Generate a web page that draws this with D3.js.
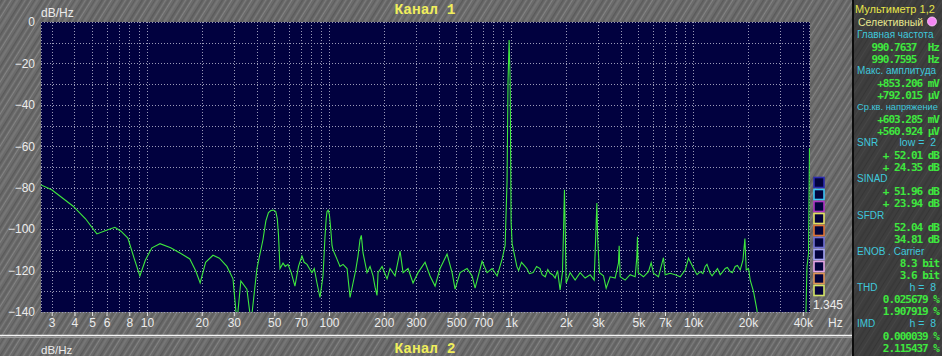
<!DOCTYPE html>
<html>
<head>
<meta charset="utf-8">
<script src="https://cdn.jsdelivr.net/npm/d3@7"></script>
<style>
  html, body { margin: 0; padding: 0; background: #6a6a6a; }
  svg { display: block; }
</style>
</head>
<body>
<svg id="chart"></svg>
<script>
var width = 942; // page width
var height = 356; // page height

// spectrum of channel 1 (frequency in Hz, level in dB/Hz)
var freqs = [2.62, 3.0, 3.92, 4.6, 5.31, 6.0, 6.67, 7.2, 7.86, 8.5, 9.15, 9.8, 10.65, 11.8, 13.5, 15.2,
    17.2, 18.5, 19.6, 21.0, 23.05, 25.0, 27.5, 29.7, 31.2, 32.8, 35.4, 37.3, 40.2, 43.4, 45.0, 46.5,
    48.0, 49.5, 51.0, 52.0, 52.8, 53.8, 55.9, 57.5, 59.5, 62.0, 65.0, 68.0, 71.0, 73.0, 75.7, 78.0,
    80.6, 83.0, 85.9, 89.2, 92.7, 95.0, 96.5, 97.5, 99.0, 100.5, 102.0, 103.9, 105.2, 110, 114.9,
    119.4, 125.6, 130.5, 135.5, 140, 144.3, 148.0, 150.5, 153.8, 161.7, 168.0, 174.5, 179, 183.5,
    185.9, 195.6, 208.3, 216.4, 230.5, 245.6, 255.1, 271.7, 289.4, 308.3, 336.9, 358.9, 382.3, 407.3,
    444.9, 474.2, 492.5, 524.6, 573.1, 610.6, 634.3, 692.9, 738.2, 786.5, 837.8, 892.5, 926.9, 950,
    962, 975, 988, 1000, 1013, 1075, 1100, 1140, 1180, 1220, 1260, 1321, 1380, 1443, 1480, 1540,
    1590, 1638, 1690, 1745, 1800, 1858, 1914, 1939, 1963, 1985, 2005, 2110, 2247, 2394, 2550, 2717,
    2858, 2920, 2958, 2990, 3056, 3215, 3327, 3499, 3727, 3887, 3921, 3971, 4230, 4506, 4800, 4905,
    4943, 4990, 5333, 5680, 5877, 6051, 6447, 6867, 7017, 7475, 7963, 8483, 9036, 9424, 9838, 10257,
    10500, 10926, 11300, 11641, 11900, 12400, 12700, 13209, 13600, 14072, 14400, 14992, 15400, 15970,
    16400, 17012, 17500, 18123, 18760, 19232, 19554, 20126, 20567, 21450, 22387, 22846, 41500, 42150,
    43000, 43500];
var levels = [-78.7, -81, -88.8, -95, -102.3, -100.5, -99.1, -101, -104.3, -114, -122.6, -115, -109, -107, -109, -111.5,
    -114.4, -120, -126, -116, -112.6, -114, -118, -124, -145, -125, -129, -145, -119, -105, -96, -92,
    -91, -90.8, -91.5, -95, -103, -119, -116.4, -118, -117, -121, -127.5, -118, -113, -116, -117, -119,
    -121, -119, -126, -133, -122.6, -104, -95, -91.5, -90.8, -93, -99, -108, -110, -114, -118,
    -117, -119, -133, -126, -120, -113, -105, -103, -111.5, -121, -118, -122.6, -128, -132,
    -121, -118, -124, -119, -122.6, -110.6, -121, -119, -126, -121, -116, -122.6, -127.5, -119,
    -112, -121, -129, -121, -119, -122.6, -128.5, -115.5, -121, -119, -122.6, -114.5, -108, -77,
    -28.5, -8.7, -28.5, -96.5, -107, -118, -120, -116, -117.5, -119, -121.5, -121, -118, -119, -122, -123,
    -119.5, -121.3, -122, -123.6, -120, -129.4, -121, -102, -81, -102, -126, -121, -124.6, -121, -123.6, -122,
    -124.6, -102, -87.4, -105, -121, -122.5, -128.5, -123, -123.6, -116.4, -108, -123, -124.6, -122, -123, -113.3,
    -103.7, -121, -123, -120.5, -116.2, -121.3, -123, -113.8, -122, -121.3, -122, -123, -119.7, -114, -117.3, -120.5,
    -122, -120.5, -121.5, -118, -117, -121.3, -122.5, -120.5, -119, -122, -121, -119, -118.5, -120.5,
    -121, -118, -117.5, -119.7, -115, -104.5, -119.7, -119, -124.6, -130.2, -139, -145, -145, -118,
    -111.7, -61];

// axis ticks
var xTicks = [3, 4, 5, 6, 8, 10, 20, 30, 50, 70, 100, 200, 300, 500, 700, 1000, 2000, 3000, 5000, 7000, 10000, 20000, 40000];
var xTickLabels = ["3", "4", "5", "6", "8", "10", "20", "30", "50", "70", "100", "200", "300", "500", "700",
    "1k", "2k", "3k", "5k", "7k", "10k", "20k", "40k"];
var yTicks = [0, -20, -40, -60, -80, -100, -120, -140];
var yGrid = [0, -10, -20, -30, -40, -50, -60, -70, -80, -90, -100, -110, -120, -130, -140];

// multimeter panel: [label, value, kind]
var panelRows = [
    ["Главная частота", "", "label"],
    ["", "990.7637  Hz", "value"],
    ["", "990.7595  Hz", "value"],
    ["Макс. амплитуда", "", "label"],
    ["", "+853.206 mV", "value"],
    ["", "+792.015 µV", "value"],
    ["Ср.кв. напряжение", "", "label"],
    ["", "+603.285 mV", "value"],
    ["", "+560.924 µV", "value"],
    ["SNR", "low =  2", "label"],
    ["", "+ 52.01 dB", "value"],
    ["", "+ 24.35 dB", "value"],
    ["SINAD", "", "label"],
    ["", "+ 51.96 dB", "value"],
    ["", "+ 23.94 dB", "value"],
    ["SFDR", "", "label"],
    ["", "52.04 dB", "value"],
    ["", "34.81 dB", "value"],
    ["ENOB . Carrier", "", "label"],
    ["", "8.3 bit", "value"],
    ["", "3.6 bit", "value"],
    ["THD", "h =  8", "label"],
    ["", "0.025679 %", "value"],
    ["", "1.907919 %", "value"],
    ["IMD", "h =  8", "label"],
    ["", "0.000039 %", "value"],
    ["", "2.115437 %", "value"]
];

// colours of the little channel boxes right of the plot
var boxColors = ["#2b2bb0", "#3cc4f4", "#b034c4", "#e4e060", "#e07434", "#7070d4", "#a4a4f4", "#e4a4e4", "#e09454", "#d4e464"];

var plot = { left: 41, right: 810, top: 22, bottom: 312 };

var x = d3.scaleLog().domain([2.62, 43800]).range([plot.left, plot.right]);
var y = d3.scaleLinear().domain([-140, 0]).range([plot.bottom, plot.top]);

var svg = d3.select("#chart").attr("width", width).attr("height", height);
var defs = svg.append("defs");

// brushed metal background
var pat = defs.append("pattern")
    .attr("id", "metal")
    .attr("patternUnits", "userSpaceOnUse")
    .attr("width", 17).attr("height", 40)
    .attr("patternTransform", "rotate(32)");
pat.append("rect").attr("width", 17).attr("height", 40).attr("fill", "#6b6b6b");
[[1, "#5a5a5a", 1.5], [4, "#7c7c7c", 1], [6, "#626262", 2], [9, "#848484", 1], [12, "#5e5e5e", 1], [14, "#767676", 2]]
    .forEach(function (s) {
        pat.append("rect").attr("x", s[0]).attr("width", s[2]).attr("height", 40).attr("fill", s[1]);
    });

var pat2 = defs.append("pattern")
    .attr("id", "metalDark")
    .attr("patternUnits", "userSpaceOnUse")
    .attr("width", 13).attr("height", 40)
    .attr("patternTransform", "rotate(32)");
pat2.append("rect").attr("width", 13).attr("height", 40).attr("fill", "#3e3e3e");
[[2, "#363636", 1], [6, "#464646", 1], [10, "#393939", 2]].forEach(function (s) {
    pat2.append("rect").attr("x", s[0]).attr("width", s[2]).attr("height", 40).attr("fill", s[1]);
});

defs.append("clipPath").attr("id", "plotClip")
    .append("rect")
    .attr("x", plot.left).attr("y", plot.top)
    .attr("width", plot.right - plot.left).attr("height", plot.bottom - plot.top);

svg.append("rect").attr("width", width).attr("height", height).attr("fill", "url(#metal)");

// plot area
svg.append("rect")
    .attr("x", plot.left).attr("y", plot.top)
    .attr("width", plot.right - plot.left).attr("height", plot.bottom - plot.top)
    .attr("fill", "#01013f");

// grid
var grid = svg.append("g")
    .attr("stroke", "#9a9ab8")
    .attr("stroke-width", 1)
    .attr("stroke-dasharray", "1,2");

grid.selectAll(".hgrid")
    .data(yGrid)
    .enter().append("line")
    .attr("x1", plot.left).attr("x2", plot.right)
    .attr("y1", function (d) { return Math.round(y(d)) + 0.5; })
    .attr("y2", function (d) { return Math.round(y(d)) + 0.5; });

grid.selectAll(".vgrid")
    .data(x.ticks())
    .enter().append("line")
    .attr("y1", plot.top).attr("y2", plot.bottom)
    .attr("x1", function (d) { return Math.round(x(d)) + 0.5; })
    .attr("x2", function (d) { return Math.round(x(d)) + 0.5; });

grid.append("line").attr("x1", plot.left + 0.5).attr("x2", plot.left + 0.5).attr("y1", plot.top).attr("y2", plot.bottom);
grid.append("line").attr("x1", plot.right - 0.5).attr("x2", plot.right - 0.5).attr("y1", plot.top).attr("y2", plot.bottom);

// spectrum trace
var line = d3.line()
    .x(function (d) { return x(d[0]); })
    .y(function (d) { return y(d[1]); });

svg.append("path")
    .datum(d3.zip(freqs, levels))
    .attr("clip-path", "url(#plotClip)")
    .attr("fill", "none")
    .attr("stroke", "#3ee83e")
    .attr("stroke-width", 1.1)
    .attr("d", line);

// axes
var xAxis = svg.append("g")
    .attr("transform", "translate(0," + plot.bottom + ")")
    .call(d3.axisBottom(x).tickValues(xTicks)
        .tickFormat(function (d, i) { return xTickLabels[i]; })
        .tickSize(4).tickPadding(2));
xAxis.select(".domain").remove();
xAxis.selectAll("line").attr("stroke", "#e8e8e8");
xAxis.selectAll("text")
    .attr("fill", "#ececec")
    .style("font-family", "Liberation Sans, Arial, sans-serif")
    .style("font-size", "12px");

var yAxis = svg.append("g")
    .attr("transform", "translate(" + plot.left + ",0)")
    .call(d3.axisLeft(y).tickValues(yTicks).tickSize(0).tickPadding(6));
yAxis.select(".domain").remove();
yAxis.selectAll("text")
    .attr("fill", "#ececec")
    .style("font-family", "Liberation Sans, Arial, sans-serif")
    .style("font-size", "12px");

// titles
svg.append("text")
    .attr("x", 41).attr("y", 17)
    .attr("fill", "#ececec")
    .style("font-family", "Liberation Sans, Arial, sans-serif")
    .style("font-size", "12px")
    .text("dB/Hz");

svg.append("text")
    .attr("x", 425).attr("y", 14)
    .attr("text-anchor", "middle")
    .attr("fill", "#f0ee5c")
    .style("font-family", "Liberation Mono, Courier New, monospace")
    .style("font-size", "14.5px")
    .style("font-weight", "bold")
    .text("Канал 1");

// channel boxes
svg.selectAll(".box")
    .data(boxColors)
    .enter().append("rect")
    .attr("x", 814).attr("y", function (d, i) { return 177.5 + i * 12; })
    .attr("width", 10).attr("height", 10)
    .attr("fill", "#02023c")
    .attr("stroke", function (d) { return d; })
    .attr("stroke-width", 1.6);

svg.append("text")
    .attr("x", 813).attr("y", 309)
    .attr("fill", "#ececec")
    .style("font-family", "Liberation Sans, Arial, sans-serif")
    .style("font-size", "12px")
    .text("1.345");

svg.append("text")
    .attr("x", 828).attr("y", 327)
    .attr("fill", "#ececec")
    .style("font-family", "Liberation Sans, Arial, sans-serif")
    .style("font-size", "12px")
    .text("Hz");

// separator and the head of channel 2
svg.append("line").attr("x1", 0).attr("x2", 852).attr("y1", 335.5).attr("y2", 335.5)
    .attr("stroke", "#f4f4f4").attr("stroke-width", 1.5);
svg.append("line").attr("x1", 0).attr("x2", 852).attr("y1", 337.5).attr("y2", 337.5)
    .attr("stroke", "#9a9a9a").attr("stroke-width", 1);

svg.append("text")
    .attr("x", 41).attr("y", 354)
    .attr("fill", "#ececec")
    .style("font-family", "Liberation Sans, Arial, sans-serif")
    .style("font-size", "11.5px")
    .text("dB/Hz");

svg.append("text")
    .attr("x", 425).attr("y", 353)
    .attr("text-anchor", "middle")
    .attr("fill", "#f0ee5c")
    .style("font-family", "Liberation Mono, Courier New, monospace")
    .style("font-size", "14.5px")
    .style("font-weight", "bold")
    .text("Канал 2");

// multimeter panel
var panel = svg.append("g");
panel.append("rect")
    .attr("x", 853).attr("y", -2).attr("width", 92).attr("height", height + 4)
    .attr("fill", "url(#metalDark)")
    .attr("stroke", "#0c0c0c").attr("stroke-width", 2);

panel.append("text")
    .attr("x", 855).attr("y", 13)
    .attr("fill", "#e6e44a")
    .style("font-family", "Liberation Sans, Arial, sans-serif")
    .style("font-size", "11px")
    .text("Мультиметр 1,2");

panel.append("text")
    .attr("x", 858).attr("y", 26)
    .attr("fill", "#e8e88e")
    .style("font-family", "Liberation Sans, Arial, sans-serif")
    .style("font-size", "10.5px")
    .text("Селективный");

panel.append("circle")
    .attr("cx", 932).attr("cy", 21.5).attr("r", 4.5)
    .attr("fill", "#f486f4").attr("stroke", "#ffd0ff").attr("stroke-width", 0.8);

panelRows.forEach(function (r, i) {
    var yc = 34.5 + i * 12.04;
    if (r[2] === "label") {
        panel.append("text")
            .attr("x", 857).attr("y", yc + 3.5)
            .attr("fill", "#3ec8dc")
            .style("font-family", "Liberation Sans, Arial, sans-serif")
            .style("font-size", r[0].length > 15 ? "9.3px" : "10px")
            .text(r[0]);
        if (r[1]) {
            panel.append("text")
                .attr("x", 936).attr("y", yc + 3.5)
                .attr("text-anchor", "end")
                .attr("fill", "#3ec8dc")
                .style("font-family", "Liberation Sans, Arial, sans-serif")
                .style("font-size", "10.5px")
                .style("white-space", "pre")
                .attr("xml:space", "preserve")
                .text(r[1]);
        }
    } else {
        panel.append("text")
            .attr("x", 939).attr("y", yc + 4)
            .attr("text-anchor", "end")
            .attr("fill", "#3ee83e")
            .attr("xml:space", "preserve")
            .style("white-space", "pre")
            .style("font-family", "DejaVu Sans Mono, monospace")
            .style("font-size", "11px")
            .style("font-weight", "bold")
            .style("letter-spacing", "-1px")
            .text(r[1]);
    }
});
</script>
</body>
</html>
